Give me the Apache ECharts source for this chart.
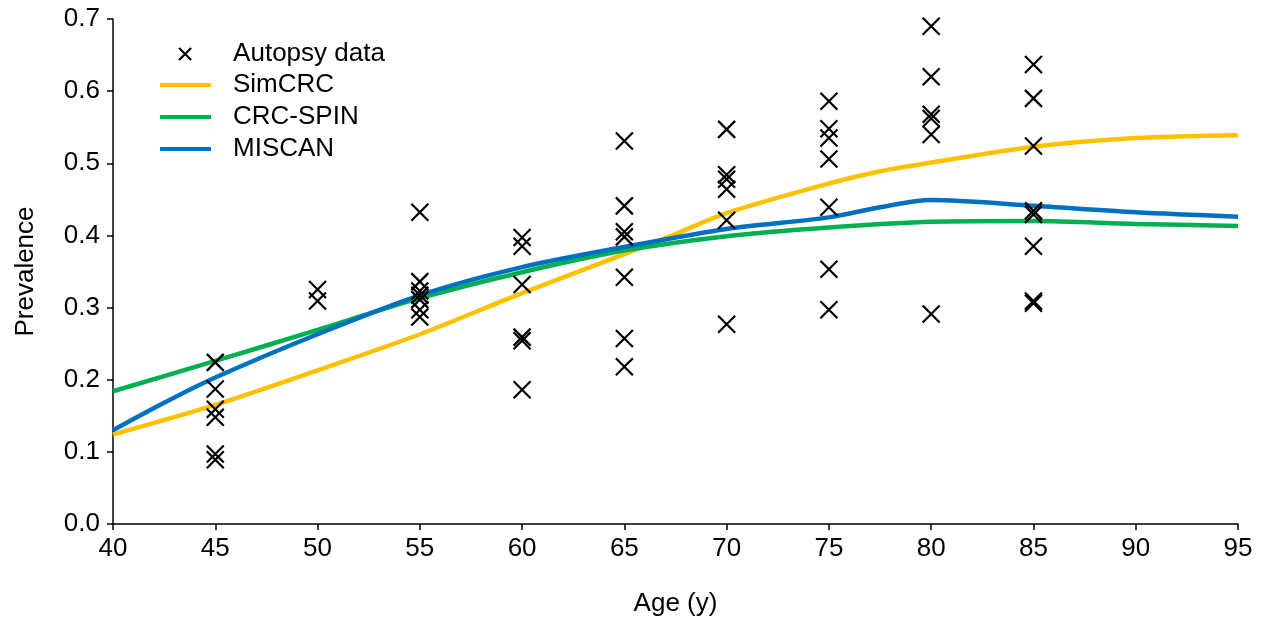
<!DOCTYPE html>
<html>
<head>
<meta charset="utf-8">
<script src="https://cdn.jsdelivr.net/npm/echarts@6/dist/echarts.min.js"></script>
<style>html,body{margin:0;padding:0;background:#fff}#c{width:1264px;height:622px}</style>
</head>
<body>
<div id="c"></div>
<script>
// Autopsy data points [age, prevalence]
const autopsyAges = [45,45,45,45,45,45, 50,50, 55,55,55,55,55,55,55, 60,60,60,60,60,60, 65,65,65,65,65,65,65, 70,70,70,70,70,70, 75,75,75,75,75,75,75, 80,80,80,80,80,80, 85,85,85,85,85,85,85,85];
const autopsyVals = [0.224,0.187,0.159,0.148,0.097,0.089, 0.325,0.309, 0.432,0.336,0.323,0.317,0.311,0.297,0.287, 0.397,0.385,0.332,0.259,0.254,0.186, 0.531,0.441,0.405,0.398,0.342,0.257,0.218, 0.547,0.484,0.478,0.464,0.421,0.277, 0.586,0.548,0.535,0.506,0.439,0.353,0.297, 0.690,0.620,0.568,0.562,0.540,0.291, 0.637,0.590,0.524,0.434,0.429,0.385,0.309,0.306];

const simcrcAges = [40,45,50,55,60,65,67.5,70,75,77.5,80,85,90,95];
const simcrcVals = [0.124,0.165,0.213,0.263,0.320,0.374,0.402,0.431,0.472,0.489,0.501,0.523,0.535,0.539];

const spinAges = [40,45,50,55,60,65,70,75,80,85,90,95];
const spinVals = [0.184,0.226,0.269,0.313,0.349,0.379,0.399,0.411,0.419,0.420,0.416,0.413];

const miscanAges = [40,42.5,45,50,55,60,65,70,75,77.5,80,85,90,95];
const miscanVals = [0.130,0.168,0.203,0.263,0.317,0.356,0.384,0.409,0.425,0.439,0.449,0.441,0.432,0.426];

const xTicks = [40,45,50,55,60,65,70,75,80,85,90,95];
const yTicks = [0.0,0.1,0.2,0.3,0.4,0.5,0.6,0.7];

const FONT = '"Liberation Sans", Arial, sans-serif';
const FS = 26;
const crossPath = 'path://M0,0L10,10M10,0L0,10';

const zip = (a,b) => a.map((v,i)=>[v,b[i]]);

const chart = echarts.init(document.getElementById('c'), null, {renderer:'canvas'});
chart.setOption({
  animation:false,
  backgroundColor:'#fff',
  textStyle:{fontFamily:FONT},
  grid:{left:113, right:26, top:19, bottom:97, containLabel:false},
  xAxis:{
    type:'value', min:xTicks[0], max:xTicks[xTicks.length-1], interval:5,
    name:'Age (y)', nameLocation:'middle', nameGap:67,
    nameTextStyle:{fontSize:FS, color:'#000', fontFamily:FONT},
    axisLine:{show:true, onZero:false, lineStyle:{color:'#000', width:1.5}},
    axisTick:{show:true, length:6, inside:false, lineStyle:{color:'#000', width:1.5}},
    axisLabel:{fontSize:FS, color:'#000', margin:12, fontFamily:FONT},
    splitLine:{show:false}
  },
  yAxis:{
    type:'value', min:yTicks[0], max:yTicks[yTicks.length-1], interval:0.1,
    name:'Prevalence', nameLocation:'middle', nameGap:74, nameRotate:90,
    nameTextStyle:{fontSize:FS, color:'#000', fontFamily:FONT},
    axisLine:{show:true, onZero:false, lineStyle:{color:'#000', width:1.5}},
    axisTick:{show:true, length:6, lineStyle:{color:'#000', width:1.5}},
    axisLabel:{fontSize:FS, color:'#000', margin:13, fontFamily:FONT, formatter:v=>v.toFixed(1)},
    splitLine:{show:false}
  },
  legend:[
    {
      orient:'vertical', left:173, top:36, itemWidth:50, itemHeight:12, itemGap:6,
      data:[{name:'Autopsy data', icon:crossPath, itemStyle:{color:'transparent', borderColor:'#000', borderWidth:2.2}}],
      textStyle:{fontSize:FS, color:'#000', fontFamily:FONT, lineHeight:22, padding:[0,0,0,18]},
      selectedMode:false
    },
    {
      orient:'vertical', left:155, top:67, itemWidth:51, itemHeight:4, itemGap:6,
      data:[{name:'SimCRC', icon:'rect'},{name:'CRC-SPIN', icon:'rect'},{name:'MISCAN', icon:'rect'}],
      textStyle:{fontSize:FS, color:'#000', fontFamily:FONT, lineHeight:22, padding:[0,0,0,17]},
      selectedMode:false
    }
  ],
  series:[
    {
      name:'SimCRC', type:'line', data:zip(simcrcAges, simcrcVals), showSymbol:false, symbol:'none',
      smooth:0.3, lineStyle:{color:'#FFC000', width:4.5}, itemStyle:{color:'#FFC000'}, z:2
    },
    {
      name:'CRC-SPIN', type:'line', data:zip(spinAges, spinVals), showSymbol:false, symbol:'none',
      smooth:0.3, lineStyle:{color:'#00B050', width:4.5}, itemStyle:{color:'#00B050'}, z:3
    },
    {
      name:'MISCAN', type:'line', data:zip(miscanAges, miscanVals), showSymbol:false, symbol:'none',
      smooth:0.3, lineStyle:{color:'#0070C0', width:4.5}, itemStyle:{color:'#0070C0'}, z:4
    },
    {
      name:'Autopsy data', type:'scatter', data:zip(autopsyAges, autopsyVals),
      symbol:crossPath, symbolSize:17,
      itemStyle:{color:'transparent', borderColor:'#000', borderWidth:2.2, opacity:1}, z:5
    }
  ]
});
</script>
</body>
</html>
